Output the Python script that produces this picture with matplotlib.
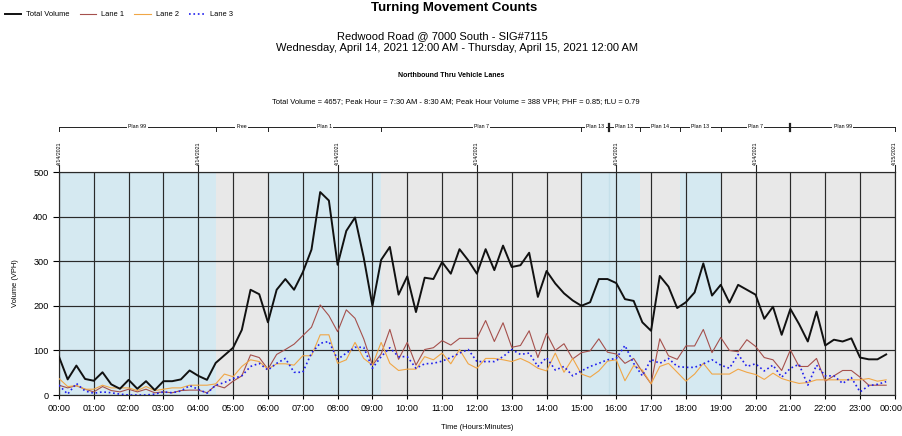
import numpy as np
import matplotlib
matplotlib.use("Agg")
import matplotlib.pyplot as plt
import matplotlib.transforms as mtransforms

# 15 minute counts, 00:00 .. 23:45
total = [86, 35, 66, 36, 32, 51, 24, 14, 34, 14, 31, 11, 31, 31, 35, 55,
         43, 34, 72, 89, 106, 146, 236, 226, 163, 236, 260, 236, 275, 326, 455, 436,
         292, 368, 398, 308, 200, 303, 332, 225, 266, 186, 263, 260, 298, 272, 327, 302,
         272, 327, 280, 335, 287, 291, 319, 220, 278, 250, 228, 212, 200, 208, 260, 260,
         251, 215, 211, 163, 144, 267, 243, 195, 208, 230, 295, 223, 247, 207, 247, 236,
         225, 171, 198, 135, 193, 159, 120, 187, 111, 124, 120, 127, 84, 80, 80, 91]
lane1 = [22, 16, 21, 13, 7, 19, 10, 7, 13, 7, 13, 5, 7, 5, 10, 11,
         11, 5, 22, 16, 31, 43, 90, 84, 58, 91, 102, 114, 133, 152, 202, 178,
         142, 191, 172, 126, 67, 92, 147, 80, 118, 67, 102, 106, 122, 112, 127, 127,
         127, 167, 120, 162, 107, 111, 144, 84, 138, 100, 115, 81, 95, 99, 126, 96,
         92, 71, 82, 52, 25, 126, 88, 80, 110, 110, 147, 95, 129, 100, 97, 124,
         109, 84, 79, 55, 101, 64, 64, 82, 31, 43, 55, 55, 40, 22, 22, 22]
lane2 = [37, 19, 21, 13, 13, 22, 16, 16, 16, 10, 19, 10, 13, 16, 16, 22,
         22, 22, 25, 47, 41, 64, 79, 75, 58, 70, 70, 67, 88, 88, 135, 135,
         71, 79, 118, 82, 67, 118, 71, 55, 58, 58, 86, 79, 94, 70, 102, 70,
         60, 82, 82, 79, 75, 82, 73, 60, 54, 94, 51, 82, 47, 40, 54, 76,
         79, 32, 66, 56, 25, 64, 71, 51, 31, 47, 71, 47, 47, 47, 58, 51,
         46, 35, 49, 37, 31, 26, 28, 34, 34, 34, 34, 34, 34, 37, 31, 34]
lane3 = [22, 2, 26, 9, 4, 7, 5, 2, 0, 0, 0, 2, 7, 5, 9, 21,
         13, 4, 22, 28, 37, 43, 64, 71, 56, 71, 82, 51, 51, 94, 116, 120,
         80, 94, 107, 107, 60, 86, 106, 86, 86, 60, 70, 71, 76, 84, 94, 102,
         75, 75, 75, 86, 102, 91, 94, 64, 84, 56, 64, 43, 54, 64, 71, 79,
         82, 111, 71, 43, 80, 71, 82, 64, 62, 62, 70, 79, 67, 60, 91, 64,
         70, 54, 67, 40, 60, 69, 22, 67, 43, 43, 26, 39, 7, 21, 24, 30]

hours = np.arange(len(total)) / 4.0

# timing plans along the top (hours)
plan_names = ["Plan 99", "Free", "Plan 1", "Plan 7", "Plan 13", "Plan 13",
              "Plan 14", "Plan 13", "Plan 7", "Plan 99"]
plan_edges = [0, 4.5, 6.0, 9.25, 15.0, 15.8, 16.67, 17.83, 19.0, 21.0, 24.0]
plan_marks = [15.8, 21.0]

# background bands
band_edges = [0, 4.5, 6.0, 9.25, 15.0, 16.67, 17.83, 19.0, 24.0]
band_colors = ["#d5e9f1", "#e8e8e8", "#d5e9f1", "#e8e8e8",
               "#d5e9f1", "#e8e8e8", "#d5e9f1", "#e8e8e8"]

date_hours = [0, 4, 8, 12, 16, 20, 24]
date_labels = ["4/14/2021"] * 6 + ["4/15/2021"]

xlabels = ["%02d:00" % (h % 24) for h in range(25)]

plt.rcParams['font.family'] = ['Liberation Sans', 'DejaVu Sans']

fig = plt.figure(figsize=(9.03, 4.36), dpi=100)
ax = fig.add_axes([0.0653, 0.094, 0.9257, 0.5115])

for i in range(len(band_colors)):
    ax.axvspan(band_edges[i], band_edges[i + 1], color=band_colors[i], lw=0, zorder=0)
ax.axvline(15.8, color="#c5e0ea", lw=1, zorder=0.2)

l0, = ax.plot(hours, total, color="#111111", lw=1.4, label="Total Volume", zorder=5)
l1, = ax.plot(hours, lane1, color="#a5504c", lw=0.8, label="Lane 1", zorder=3)
l2, = ax.plot(hours, lane2, color="#f0a646", lw=0.8, label="Lane 2", zorder=3)
l3, = ax.plot(hours, lane3, color="#1f1fee", lw=1.2, ls=":", label="Lane 3", zorder=4)

ax.set_xlim(0, 24)
ax.set_ylim(0, 500)
ax.set_xticks(range(25))
ax.set_xticklabels(xlabels, fontsize=6.6)
ax.set_yticks(range(0, 501, 100))
ax.tick_params(axis='y', labelsize=6.6, length=4, width=0.8)
ax.tick_params(axis='x', length=3, width=0.8)
last = ax.get_xticklabels()[-1]
last.set_transform(last.get_transform() + mtransforms.ScaledTranslation(-4 / 100, 0, fig.dpi_scale_trans))
ax.set_axisbelow(True)
ax.grid(True, color="#2a2a2a", lw=0.85)
for s in ax.spines.values():
    s.set_color("#2a2a2a")
    s.set_linewidth(0.85)

ax.set_ylabel("Volume (VPH)", fontsize=5.4, labelpad=10)
ax.set_xlabel("Time (Hours:Minutes)", fontsize=5.4, labelpad=8)

trans = mtransforms.blended_transform_factory(ax.transData, ax.transAxes)

# plan bar
py = 1.2018
ax.plot([0, 24], [py, py], transform=trans, color="#222222", lw=0.7, clip_on=False)
for e in plan_edges:
    if e in plan_marks:
        continue
    ax.plot([e, e], [py - 0.016, py], transform=trans, color="#222222", lw=0.7, clip_on=False)
for m in plan_marks:
    ax.plot([m, m], [py - 0.02, py + 0.015], transform=trans, color="#222222", lw=1.6, clip_on=False)
for i, name in enumerate(plan_names):
    mid = (plan_edges[i] + plan_edges[i + 1]) / 2
    ax.text(mid, py, name, transform=trans, ha="center", va="center", fontsize=3.8,
            bbox=dict(fc="white", ec="none", pad=0.8), clip_on=False)

# date ticks
for h, lab in zip(date_hours, date_labels):
    ax.plot([h, h], [1.0, 1.033], transform=trans, color="#222222", lw=0.8, clip_on=False)
    ax.text(h, 1.083, lab, transform=trans, rotation=90, ha="center", va="center", fontsize=3.8)

fig.text(0.503, 0.982, "Turning Movement Counts", ha="center", va="center",
         fontsize=9.5, fontweight="bold")
fig.text(0.49, 0.916, "Redwood Road @ 7000 South - SIG#7115", ha="center", va="center", fontsize=8)
fig.text(0.506, 0.890, "Wednesday, April 14, 2021 12:00 AM - Thursday, April 15, 2021 12:00 AM",
         ha="center", va="center", fontsize=8)
fig.text(0.5, 0.826, "Northbound Thru Vehicle Lanes", ha="center", va="center",
         fontsize=5, fontweight="bold")
fig.text(0.505, 0.768, "Total Volume = 4657; Peak Hour = 7:30 AM - 8:30 AM; Peak Hour Volume = 388 VPH; PHF = 0.85; fLU = 0.79",
         ha="center", va="center", fontsize=5.4)

fig.legend(handles=[l0, l1, l2, l3], loc="center left", bbox_to_anchor=(0.0, 0.966),
           ncol=4, frameon=False, fontsize=5.4, handlelength=2.2, handletextpad=0.7,
           columnspacing=1.3, borderaxespad=0.2)

fig.savefig("out.png", dpi=100)
